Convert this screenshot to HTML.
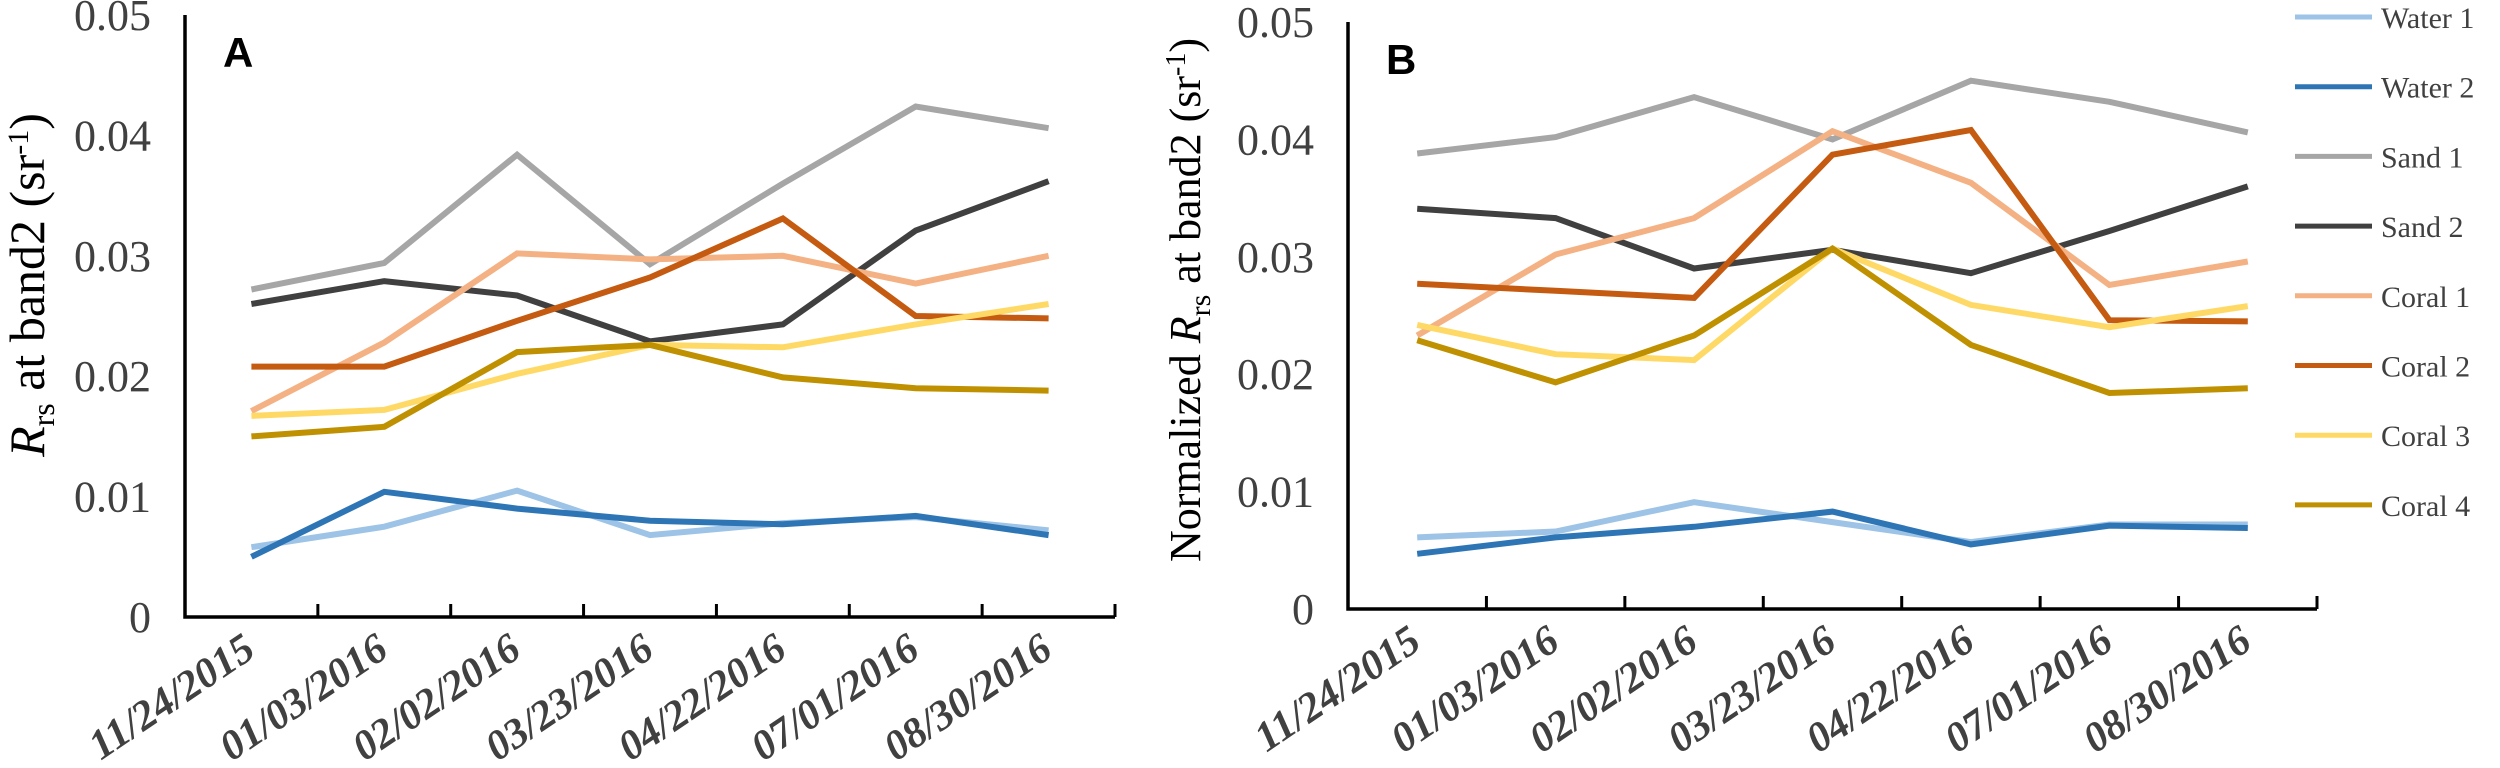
<!DOCTYPE html>
<html><head><meta charset="utf-8">
<style>
html,body{margin:0;padding:0;background:#fff;}
svg{display:block;}
text{font-family:"Liberation Serif",serif;}
</style></head>
<body>
<svg id="chart" width="2500" height="768" viewBox="0 0 2500 768"></svg>
<script>
const categories = ["11/24/2015","01/03/2016","02/02/2016","03/23/2016","04/22/2016","07/01/2016","08/30/2016"];
const seriesNames = ["Water 1","Water 2","Sand 1","Sand 2","Coral 1","Coral 2","Coral 3","Coral 4"];
const seriesColors = ["#9dc3e6","#2e75b6","#a6a6a6","#404040","#f4b183","#c55a11","#ffd966","#bf9000"];
const yTicks = [0,0.01,0.02,0.03,0.04,0.05];
const yTickLabels = ["0","0.01","0.02","0.03","0.04","0.05"];
const aWater1 = [0.0058,0.0075,0.0105,0.0068,0.0078,0.0083,0.0072];
const aWater2 = [0.0050,0.0104,0.0090,0.0080,0.0077,0.0084,0.0068];
const aSand1  = [0.0272,0.0294,0.0384,0.0293,0.0360,0.0424,0.0406];
const aSand2  = [0.0260,0.0279,0.0267,0.0229,0.0243,0.0321,0.0362];
const aCoral1 = [0.0171,0.0228,0.0302,0.0297,0.0300,0.0277,0.0300];
const aCoral2 = [0.0208,0.0208,0.0246,0.0282,0.0331,0.0250,0.0248];
const aCoral3 = [0.0167,0.0172,0.0202,0.0226,0.0224,0.0243,0.0260];
const aCoral4 = [0.0150,0.0158,0.0220,0.0226,0.0199,0.0190,0.0188];
const bWater1 = [0.0061,0.0066,0.0091,0.0074,0.0057,0.0072,0.0072];
const bWater2 = [0.0047,0.0061,0.0070,0.0083,0.0055,0.0071,0.0069];
const bSand1  = [0.0388,0.0402,0.0436,0.0400,0.0450,0.0432,0.0406];
const bSand2  = [0.0341,0.0333,0.0290,0.0306,0.0286,0.0322,0.0360];
const bCoral1 = [0.0233,0.0302,0.0333,0.0407,0.0363,0.0276,0.0296];
const bCoral2 = [0.0277,0.0271,0.0265,0.0387,0.0408,0.0246,0.0245];
const bCoral3 = [0.0242,0.0217,0.0212,0.0307,0.0259,0.0240,0.0258];
const bCoral4 = [0.0229,0.0193,0.0233,0.0307,0.0225,0.0184,0.0188];

const NS="http://www.w3.org/2000/svg";
const svg=document.getElementById('chart');
function mk(tag,attrs,parent){const e=document.createElementNS(NS,tag);for(const k in attrs)e.setAttribute(k,attrs[k]);(parent||svg).appendChild(e);return e;}

function panel(cfg){
  const g=mk('g',{});
  
  
  const band=(cfg.x1-cfg.x0)/categories.length;
  const xs=i=>cfg.x0+band*(i+0.5);
  const ys=v=>cfg.y0-(v/0.05)*(cfg.y0-cfg.yTop);
  const ax=mk('path',{d:`M${cfg.x0},${ys(0.05)} L${cfg.x0},${cfg.y0} L${cfg.x1},${cfg.y0}`,fill:'none',stroke:'#000','stroke-width':3.5},g);
  
  
  for(let i=1;i<=categories.length;i++){
    const x=cfg.x0+band*i;
    const t=mk('line',{x1:x,x2:x,y1:cfg.y0,y2:cfg.y0-13,stroke:'#000','stroke-width':3},g);
    
    
  }
  yTicks.forEach((v,i)=>{
    const t=mk('text',{x:cfg.x0-34,y:ys(v)+15,'text-anchor':'end','font-size':44,fill:'#404040',transform:`translate(0,0)`},g);
    t.textContent=yTickLabels[i];
    
    
  });
  categories.forEach((c,i)=>{
    const x=xs(i)+6,y=cfg.y0+38;
    const t=mk('text',{x:x,y:y,'text-anchor':'end','font-size':42,'font-weight':'bold','font-style':'italic',fill:'#404040',transform:`rotate(-34 ${x} ${y})`},g);
    t.textContent=c;
    
    
  });
  cfg.series.forEach((arr,si)=>{
    const d=arr.map((v,i)=>(i?'L':'M')+xs(i).toFixed(1)+','+ys(v).toFixed(1)).join(' ');
    const p=mk('path',{d:d,fill:'none',stroke:seriesColors[si],'stroke-width':6,'stroke-linejoin':'miter'},g);
    
    
  });
  const L=mk('text',{x:cfg.x0+38,y:cfg.yTop+52,'font-size':42,'font-weight':'bold',style:'font-family:"Liberation Sans",sans-serif'},g);
  L.textContent=cfg.letter;
  
  
  const yl=mk('text',{x:0,y:0,'font-size':cfg.labelSize,fill:'#000','text-anchor':'middle',transform:`translate(${cfg.labelX},${cfg.labelY}) rotate(-90)`},g);
  yl.innerHTML=cfg.labelHTML;
  
  
}

panel({name:'panel-a',letter:'A',x0:185,x1:1115,y0:617,yTop:15,labelX:44,labelY:285,labelSize:50,
  labelHTML:'<tspan font-style="italic">R</tspan><tspan font-size="32" dy="10">rs</tspan><tspan dy="-10"> at band2 (sr</tspan><tspan font-size="30" dy="-16">-1</tspan><tspan dy="16">)</tspan>',
  series:[aWater1,aWater2,aSand1,aSand2,aCoral1,aCoral2,aCoral3,aCoral4]});
panel({name:'panel-b',letter:'B',x0:1348,x1:2317,y0:609,yTop:22,labelX:1200,labelY:300,labelSize:44,
  labelHTML:'Normalized <tspan font-style="italic">R</tspan><tspan font-size="30" dy="10">rs</tspan><tspan dy="-10">  at band2 (sr</tspan><tspan font-size="28" dy="-15">-1</tspan><tspan dy="15">)</tspan>',
  series:[bWater1,bWater2,bSand1,bSand2,bCoral1,bCoral2,bCoral3,bCoral4]});

const lg=mk('g',{});


seriesNames.forEach((n,i)=>{
  const y=17+i*69.7;
  const ln=mk('line',{x1:2295,x2:2372,y1:y,y2:y,stroke:seriesColors[i],'stroke-width':5},lg);
  
  
  const t=mk('text',{x:2381,y:y+11,'font-size':30,fill:'#404040'},lg);
  t.textContent=n;
  
  
});
</script>
</body></html>
